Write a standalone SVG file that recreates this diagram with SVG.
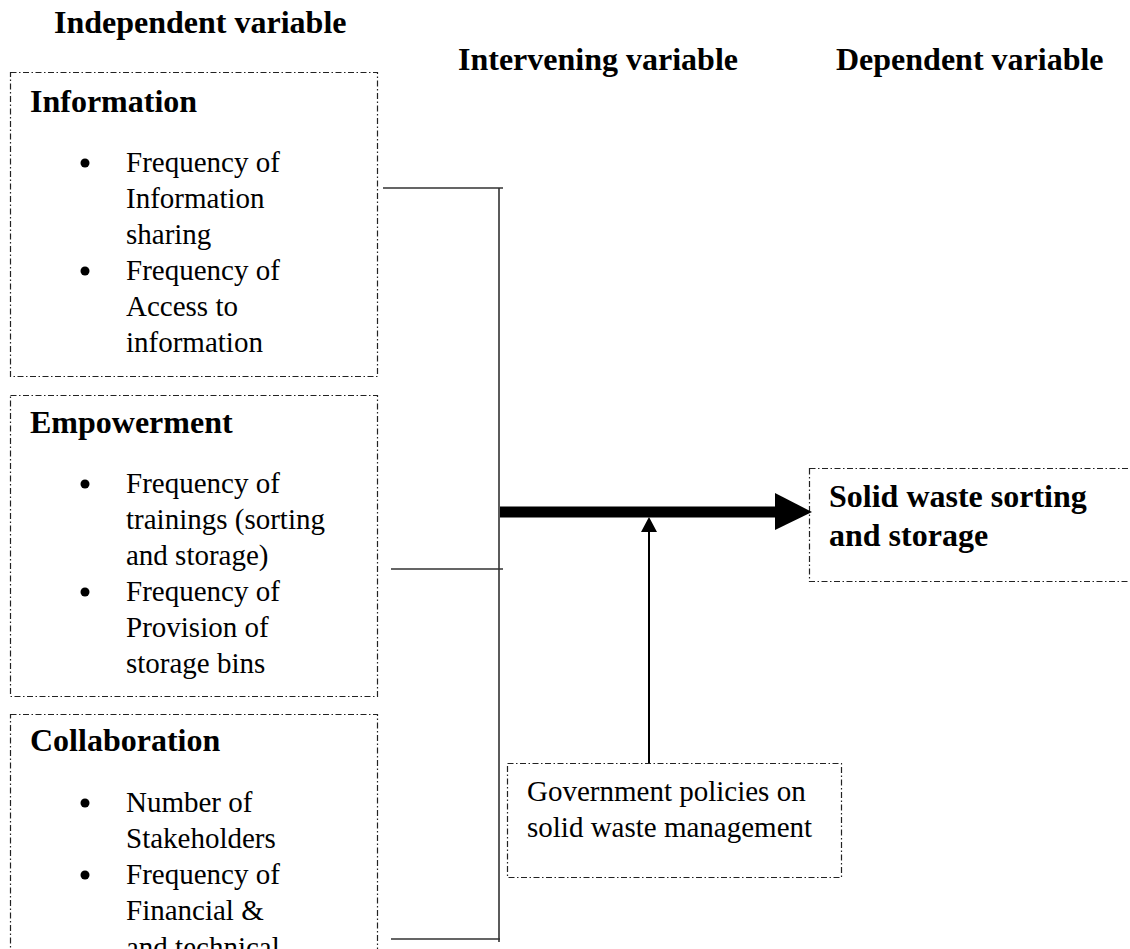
<svg xmlns="http://www.w3.org/2000/svg" width="1130" height="949" viewBox="0 0 1130 949">
<style>
text{font-family:"Liberation Serif","Times New Roman",serif;fill:#000}
.h{font-size:32px;font-weight:bold}
.b{font-size:29px}
.box{fill:none;stroke:#222;stroke-width:1.2;stroke-dasharray:6 2.5 1.5 2.5}
.br{stroke:#333;stroke-width:1.6;fill:none}
</style>
<rect width="1130" height="949" fill="#fff"/>
<g id="headers">
<text class="h" x="54" y="33">Independent variable</text>
<text class="h" x="458" y="70">Intervening variable</text>
<text class="h" x="836" y="70">Dependent variable</text>
</g>
<g id="information">
<rect class="box" x="10.5" y="72.5" width="367" height="304"/>
<text class="h" x="30" y="112">Information</text>
<circle cx="85" cy="163" r="4.5"/>
<circle cx="85" cy="271" r="4.5"/>
<text class="b" x="126" y="172">Frequency of</text>
<text class="b" x="126" y="208">Information</text>
<text class="b" x="126" y="244">sharing</text>
<text class="b" x="126" y="280">Frequency of</text>
<text class="b" x="126" y="316">Access to</text>
<text class="b" x="126" y="352">information</text>
</g>
<g id="empowerment">
<rect class="box" x="10.5" y="395.5" width="367" height="301"/>
<text class="h" x="30" y="433">Empowerment</text>
<circle cx="85" cy="484" r="4.5"/>
<circle cx="85" cy="592" r="4.5"/>
<text class="b" x="126" y="493">Frequency of</text>
<text class="b" x="126" y="529">trainings (sorting</text>
<text class="b" x="126" y="565">and storage)</text>
<text class="b" x="126" y="601">Frequency of</text>
<text class="b" x="126" y="637">Provision of</text>
<text class="b" x="126" y="673">storage bins</text>
</g>
<g id="collaboration">
<rect class="box" x="10.5" y="714.5" width="367" height="260"/>
<text class="h" x="30" y="751">Collaboration</text>
<circle cx="85" cy="803" r="4.5"/>
<circle cx="85" cy="875" r="4.5"/>
<text class="b" x="126" y="812">Number of</text>
<text class="b" x="126" y="848">Stakeholders</text>
<text class="b" x="126" y="884">Frequency of</text>
<text class="b" x="126" y="920">Financial &amp;</text>
<text class="b" x="126" y="957">and technical</text>
</g>
<g id="dependent">
<rect class="box" x="809.5" y="468.5" width="340" height="113"/>
<text class="h" x="829" y="507">Solid waste sorting</text>
<text class="h" x="829" y="546">and storage</text>
</g>
<g id="government">
<rect class="box" x="507.5" y="763.5" width="334" height="114"/>
<text class="b" x="527" y="801">Government policies on</text>
<text class="b" x="527" y="837">solid waste management</text>
</g>
<g id="connectors">
<path class="br" d="M383 188H503M391 569H503M391 939H500M499 188V942"/>
<line x1="500" y1="512" x2="778" y2="512" stroke="#000" stroke-width="11"/>
<polygon points="775,493 812,512 775,530" fill="#000"/>
<line x1="649" y1="763" x2="649" y2="530" stroke="#000" stroke-width="2"/>
<polygon points="649,517 641,532 657,532" fill="#000"/>
</g>
</svg>
